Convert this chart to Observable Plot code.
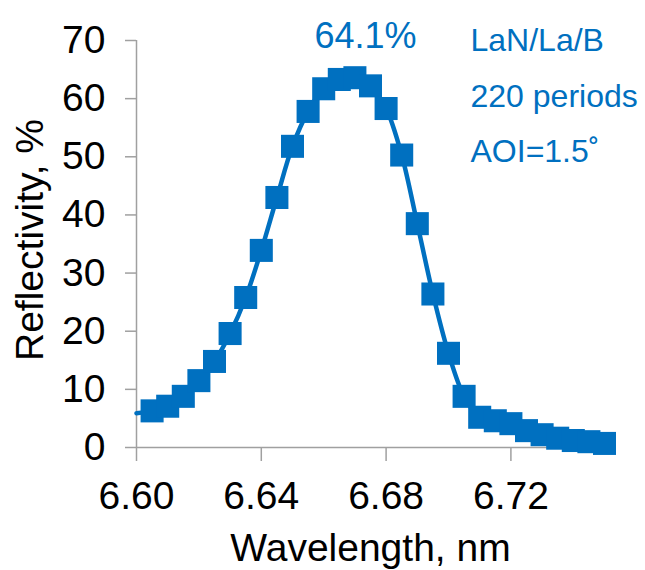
<!DOCTYPE html>
<html><head><meta charset="utf-8">
<script src="https://cdn.jsdelivr.net/npm/d3@7"></script>
<script src="https://cdn.jsdelivr.net/npm/@observablehq/plot@0.6"></script>
<style>body{margin:0;background:#fff}</style>
</head><body><div id="chart"></div>
<script>
// wavelength (nm) and reflectivity (%); first point carries the line only
const wavelength = [6.600, 6.605, 6.610, 6.615, 6.620, 6.625, 6.630, 6.635, 6.640, 6.645, 6.650,
  6.655, 6.660, 6.665, 6.670, 6.675, 6.680, 6.685, 6.690, 6.695, 6.700,
  6.705, 6.710, 6.715, 6.720, 6.725, 6.730, 6.735, 6.740, 6.745, 6.750];
const reflectivity = [5.9, 6.3, 7.1, 8.8, 11.5, 14.8, 19.6, 25.8, 33.9, 43.0, 51.8,
  57.8, 61.7, 63.3, 63.6, 62.2, 58.3, 50.3, 38.5, 26.4, 16.2,
  8.8, 5.2, 4.6, 4.1, 2.9, 2.2, 1.6, 1.2, 1.0, 0.7];
const xTicks = [6.60, 6.64, 6.68, 6.72];
const yTicks = [0, 10, 20, 30, 40, 50, 60, 70];
const xLabel = "Wavelength, nm";
const yLabel = "Reflectivity, %";
const peakLabel = "64.1%";
const notes = ["LaN/La/B", "220 periods", "AOI=1.5˚"];

const blue = "#0070C0";
const gray = "#a0a0a0";
const data = wavelength.map((w, i) => ({w, r: reflectivity[i]}));
const markers = data.slice(1);

const plot = Plot.plot({
  width: 645, height: 570,
  marginLeft: 136, marginRight: 41, marginTop: 40, marginBottom: 123,
  style: {fontFamily: "'Liberation Sans', Arial, sans-serif", fontSize: "39px", color: "#000", background: "#fff", overflow: "visible"},
  x: {domain: [6.60, 6.75]},
  y: {domain: [0, 70]},
  marks: [
    Plot.ruleY([0], {stroke: gray, strokeWidth: 1.5}),
    Plot.ruleX([6.60], {stroke: gray, strokeWidth: 1.5}),
    Plot.axisX(xTicks, {tickSize: 14, tickPadding: 20, stroke: gray, strokeWidth: 1.5, fill: "#000", tickFormat: d3.format(".2f"), label: null}),
    Plot.axisY(yTicks, {tickSize: 11, tickPadding: 20, stroke: gray, strokeWidth: 1.5, fill: "#000", label: null}),
    Plot.text([xLabel], {frameAnchor: "bottom", lineAnchor: "bottom", dy: 113, fill: "#000"}),
    Plot.text([yLabel], {frameAnchor: "left", textAnchor: "middle", lineAnchor: "bottom", rotate: -90, dx: -94, dy: -4, fill: "#000"}),
    Plot.line(data, {x: "w", y: "r", stroke: blue, strokeWidth: 4.5, curve: "catmull-rom"}),
    Plot.dot(markers, {x: "w", y: "r", symbol: "square", r: 13, fill: blue}),
    Plot.text([peakLabel], {frameAnchor: "top", lineAnchor: "bottom", dx: -5, dy: 7, fill: blue, fontSize: 36}),
    Plot.text([notes.join("\n")], {frameAnchor: "top-left", textAnchor: "start", lineAnchor: "top", lineHeight: 1.74, dx: 334, dy: -29, fill: blue, fontSize: 32})
  ]
});
document.getElementById("chart").appendChild(plot);
</script>
</body></html>
